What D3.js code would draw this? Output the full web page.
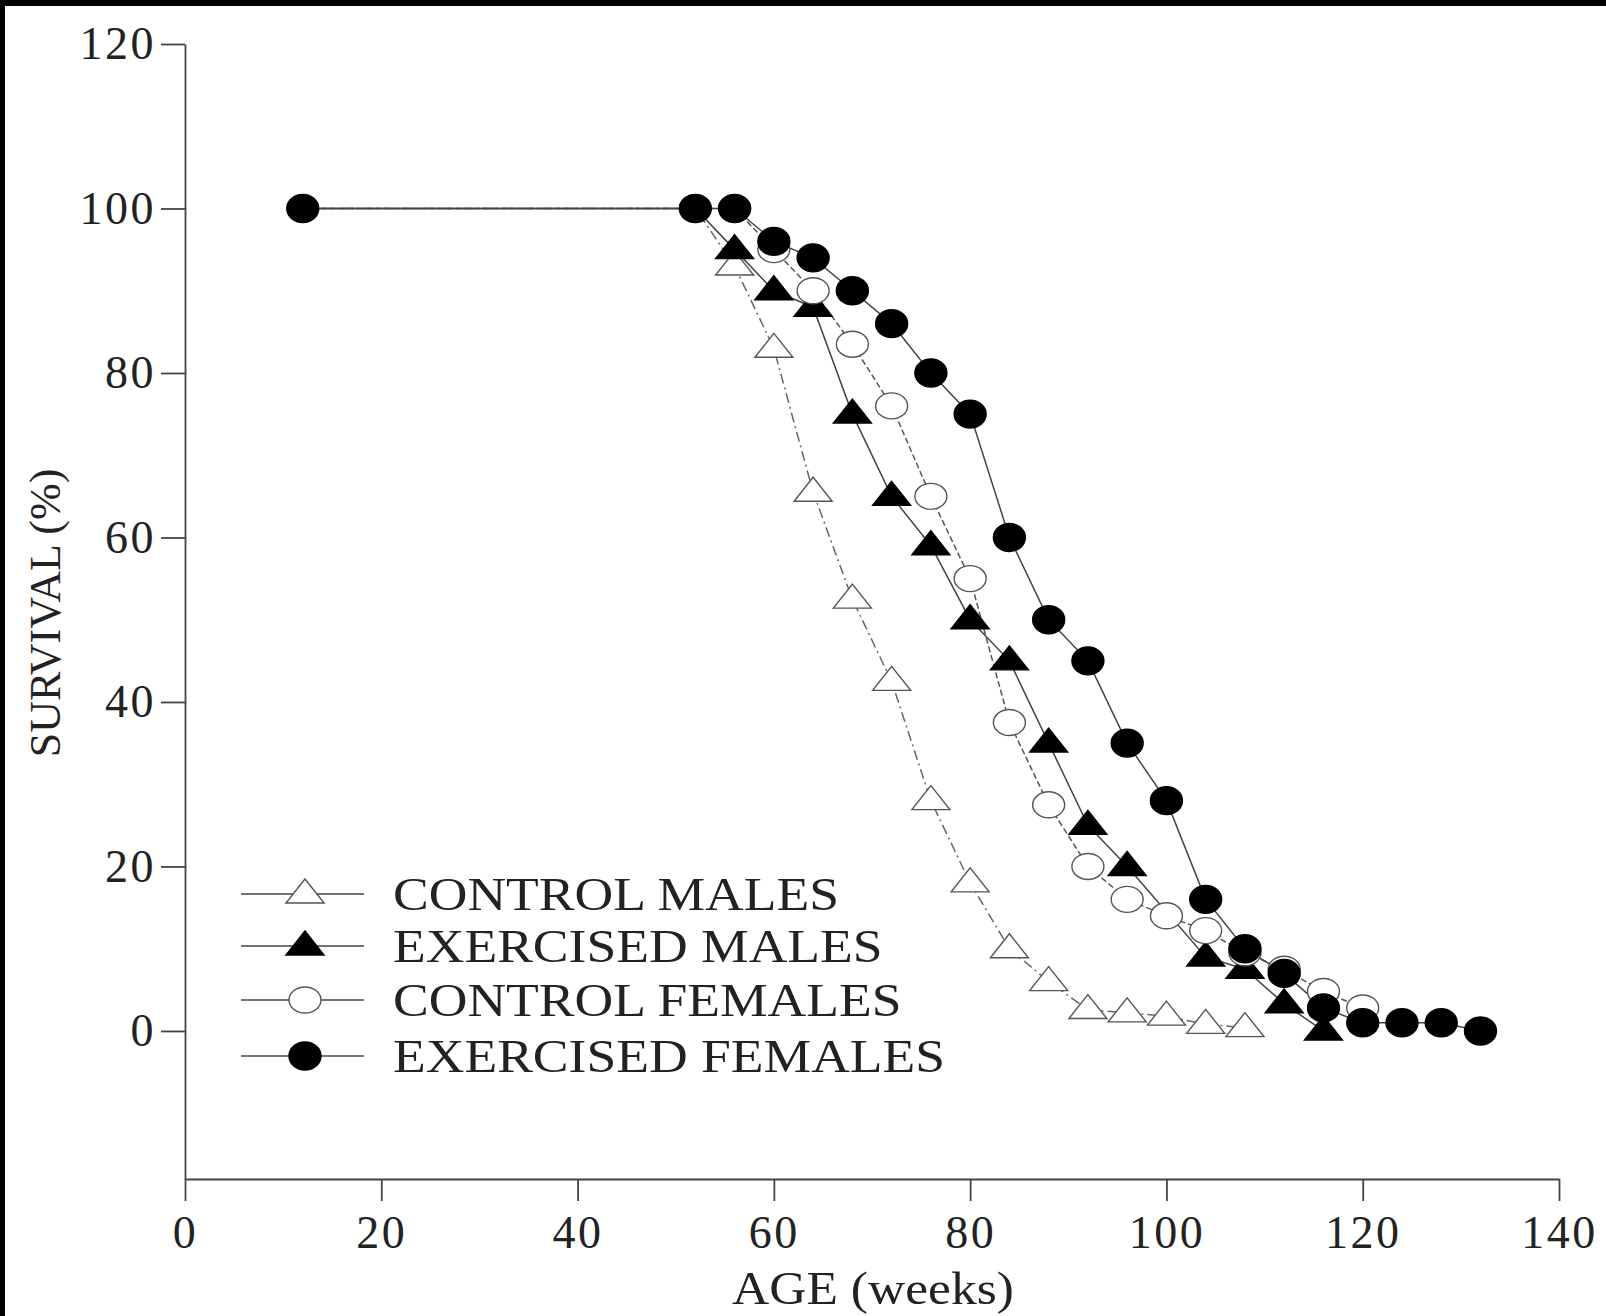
<!DOCTYPE html>
<html>
<head>
<meta charset="utf-8">
<script src="https://cdn.jsdelivr.net/npm/d3@7/dist/d3.min.js"></script>
<style>
  body { margin: 0; background: #fff; }
  svg { display: block; }
  text { font-family: "Liberation Serif", "Times New Roman", serif; fill: #222; }
</style>
</head>
<body>
<svg id="chart" width="1606" height="1316"></svg>
<script>
// age in weeks, shared by every series (a series may stop early)
const ages = [12, 52, 56, 60, 64, 68, 72, 76, 80, 84, 88, 92, 96, 100, 104, 108, 112, 116, 120, 124, 128, 132];

// survival (%); null = no point at that age
const controlMales      = [100, 100, 93, 83, 65.5, 52.5, 42.5, 28, 18, 10, 6, 2.6, 2.2, 1.8, 0.8, 0.4];
const exercisedMales    = [100, 100, 95, 90, 88, 75, 65, 59, 50, 45, 35, 25, 20, null, 9, 7.5, 3.3, 0];
const controlFemales    = [100, 100, 100, 95, 90, 83.5, 76, 65, 55, 37.5, 27.5, 20, 16, 14, 12.2, 9.5, 7.5, 4.8, 2.8];
const exercisedFemales  = [100, 100, 100, 96, 94, 90, 86, 80, 75, 60, 50, 45, 35, 28, 16, 10, 7, 2.8, 1, 1, 1, 0];

const seriesNames = ['CONTROL MALES', 'EXERCISED MALES', 'CONTROL FEMALES', 'EXERCISED FEMALES'];

const xTicks = [0, 20, 40, 60, 80, 100, 120, 140];
const yTicks = [0, 20, 40, 60, 80, 100, 120];

// the shared 12/52-week points only show the exercised-female symbol
const series = [
  {name: seriesNames[0], vals: controlMales,     shape: 'tri',    fill: '#fff', dash: '10,4,2,4', stroke: '#666', firstMark: 56},
  {name: seriesNames[1], vals: exercisedMales,   shape: 'tri',    fill: '#000', dash: null,       stroke: '#444', firstMark: 56},
  {name: seriesNames[2], vals: controlFemales,   shape: 'circle', fill: '#fff', dash: '6,3',      stroke: '#555', firstMark: 56},
  {name: seriesNames[3], vals: exercisedFemales, shape: 'circle', fill: '#000', dash: null,       stroke: '#444', firstMark: 0}
];

const svg = d3.select('#chart');

// black scan edge at top and left
svg.append('rect').attr('x', 0).attr('y', 0).attr('width', 1606).attr('height', 6).attr('fill', '#000');
svg.append('rect').attr('x', 0).attr('y', 0).attr('width', 5).attr('height', 1316).attr('fill', '#000');

const x = d3.scaleLinear().domain([0, 140]).range([185, 1559]);
const y = d3.scaleLinear().domain([-18, 120]).range([1179, 44]);

const xAxis = d3.axisBottom(x).tickValues(xTicks).tickSize(22).tickSizeOuter(0).tickPadding(14);
const yAxis = d3.axisLeft(y).tickValues(yTicks).tickSize(24).tickSizeOuter(0).tickPadding(5);

const gx = svg.append('g').attr('transform', 'translate(0,' + y.range()[0] + ')').call(xAxis);
const gy = svg.append('g').attr('transform', 'translate(' + x.range()[0] + ',0)').call(yAxis);

[gx, gy].forEach(g => {
  g.attr('font-family', null).attr('font-size', null);
  g.selectAll('path, line').attr('stroke', '#444').attr('stroke-width', 1.8);
  g.selectAll('text').attr('font-size', 46).attr('letter-spacing', 2.5).attr('fill', '#222');
});

// markers
const triPath = 'M0,-15L19,9L-19,9Z';

function drawMarker(g, s) {
  const edge = s.fill === '#000' ? '#000' : '#555';
  if (s.shape === 'tri') {
    g.append('path').attr('d', triPath)
      .attr('fill', s.fill).attr('stroke', edge).attr('stroke-width', 1.4);
  } else {
    g.append('ellipse').attr('rx', 16).attr('ry', s.fill === '#000' ? 14 : 13)
      .attr('fill', s.fill).attr('stroke', edge).attr('stroke-width', 1.4);
  }
}

const line = d3.line().x(d => x(d.age)).y(d => y(d.val));

series.forEach(s => {
  const pts = s.vals.map((v, i) => ({age: ages[i], val: v})).filter(d => d.val !== null);
  svg.append('path')
    .datum(pts)
    .attr('d', line)
    .attr('fill', 'none')
    .attr('stroke', s.stroke)
    .attr('stroke-width', 1.5)
    .attr('stroke-dasharray', s.dash);
  s.pts = pts;
});

series.forEach(s => {
  svg.selectAll(null)
    .data(s.pts.filter(d => d.age >= s.firstMark))
    .enter()
    .append('g')
    .attr('transform', d => 'translate(' + x(d.age) + ',' + y(d.val) + ')')
    .each(function() { drawMarker(d3.select(this), s); });
});

// legend
const legendRows = [894, 946, 1000, 1056];
series.forEach((s, i) => {
  const g = svg.append('g').attr('transform', 'translate(0,' + legendRows[i] + ')');
  g.append('line').attr('x1', 241).attr('x2', 364).attr('y1', 0).attr('y2', 0)
    .attr('stroke', '#444').attr('stroke-width', 1.6);
  const m = g.append('g').attr('transform', 'translate(305,0)');
  drawMarker(m, s);
  g.append('text')
    .attr('transform', 'translate(393,0) scale(1.165,1)')
    .attr('dy', '0.35em')
    .attr('font-size', 46)
    .text(s.name);
});

// axis titles
svg.append('text')
  .attr('transform', 'translate(873,1304) scale(1.12,1)')
  .attr('text-anchor', 'middle')
  .attr('font-size', 46)
  .text('AGE (weeks)');

svg.append('text')
  .attr('transform', 'translate(60,613) rotate(-90)')
  .attr('text-anchor', 'middle')
  .attr('font-size', 44)
  .text('SURVIVAL (%)');
</script>
</body>
</html>
